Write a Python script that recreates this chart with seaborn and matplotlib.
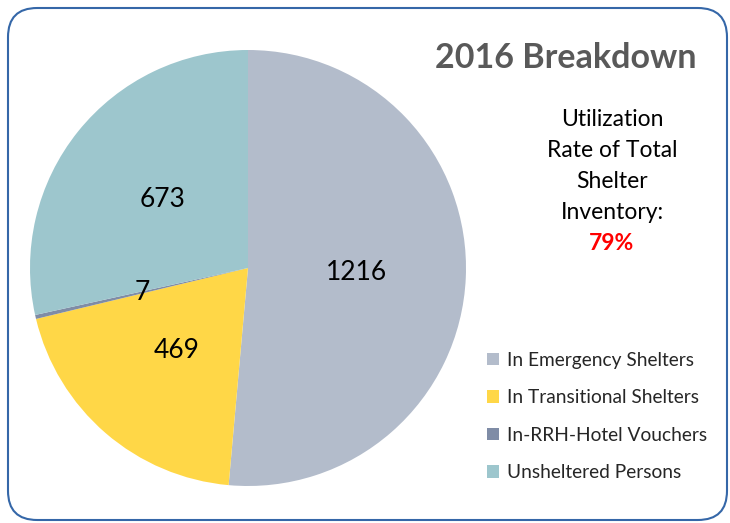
import matplotlib
matplotlib.use("Agg")
import matplotlib.pyplot as plt
from matplotlib.patches import FancyBboxPatch
import seaborn as sns

# data
categories = ["In Emergency Shelters", "In Transitional Shelters",
              "In-RRH-Hotel Vouchers", "Unsheltered Persons"]
counts = [1216, 469, 7, 673]
colors = ["#B3BCCB", "#FFD747", "#7F8CA6", "#9DC6CD"]
utilization = "79%"

sns.set_theme(style="white")
plt.rcParams['font.family'] = ['Lato', 'DejaVu Sans']

fig = plt.figure(figsize=(7.3, 5.23), dpi=100)

# rounded frame around the whole chart
frame = FancyBboxPatch((8 / 730, 3 / 523), 719 / 730, 512 / 523,
                       boxstyle="round,pad=0,rounding_size=0.04",
                       transform=fig.transFigure, fill=False,
                       edgecolor="#3567A8", linewidth=1.5, mutation_aspect=730 / 523)
fig.patches.append(frame)

ax = fig.add_axes([30 / 730, (523 - 268 - 218) / 523, 436 / 730, 436 / 523])
wedges, texts, autotexts = ax.pie(
    counts, colors=colors, startangle=90, counterclock=False,
    autopct=lambda p: f"{round(p * sum(counts) / 100)}", pctdistance=0.5,
    textprops={'fontsize': 19, 'color': 'black'},
    wedgeprops={'linewidth': 0})
ax.set_aspect('equal')
ax.set_xlim(-1, 1)
ax.set_ylim(-1, 1)
ax.axis('off')

fig.text(566 / 730, 1 - 58 / 523, "2016 Breakdown", ha='center', va='center',
         fontsize=24.5, fontweight='bold', color='#595959')

fig.text(612 / 730, 1 - 166 / 523, "Utilization\nRate of Total\nShelter\nInventory:",
         ha='center', va='center', fontsize=16.5, color='black', linespacing=1.6)
fig.text(612 / 730, 1 - 243 / 523, utilization, ha='center', va='center',
         fontsize=16.5, fontweight='bold', color='#FF0000')

fig.legend(wedges, categories, loc='upper left',
           bbox_to_anchor=(479 / 730, 1 - 344 / 523), frameon=False,
           fontsize=13.8, handlelength=0.65, handleheight=0.65, handletextpad=0.4,
           labelspacing=1.07, borderaxespad=0)

fig.savefig("out.png", dpi=100)
